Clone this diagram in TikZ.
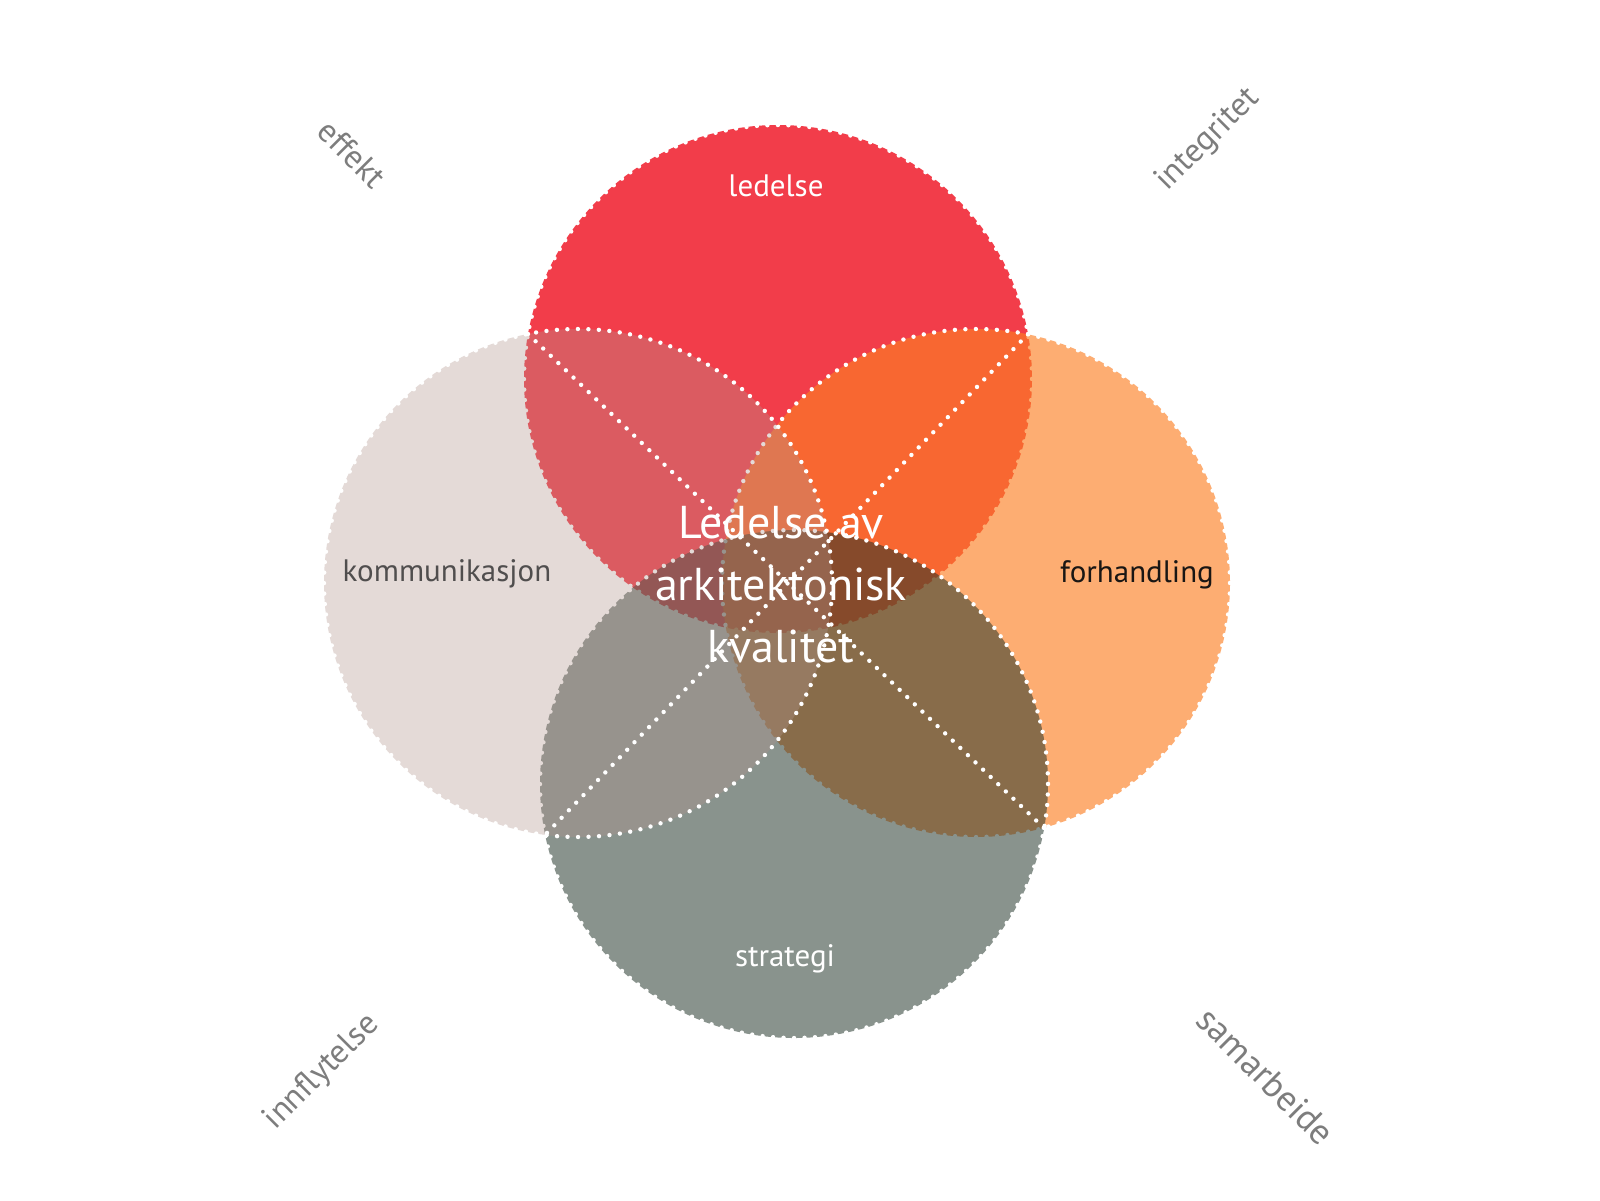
\documentclass[tikz,border=0pt]{standalone}
\usepackage{fontspec}
\setmainfont{PT Sans}
\definecolor{redc}{RGB}{242,61,74}
\definecolor{rightc}{RGB}{252,127,35}
\definecolor{bottomc}{RGB}{30,49,38}
\definecolor{leftc}{RGB}{178,149,141}
\definecolor{cornergray}{RGB}{125,125,125}
\definecolor{kommgray}{RGB}{80,78,78}
\definecolor{forhblack}{RGB}{25,22,20}
\begin{document}
\begin{tikzpicture}[x=1pt,y=-1pt,
  dots/.style={draw=white, line width=4.4pt, line cap=round, dash pattern=on 0pt off 10.5pt},
  lbl/.style={font=\fontsize{31}{31}\selectfont, inner sep=0pt},
  corner/.style={inner sep=0pt, text=cornergray, font=\fontsize{33}{33}\selectfont},
  centertext/.style={text=white, align=center, inner sep=0pt, font=\fontsize{46}{62}\selectfont}
]
\useasboundingbox (0,0) rectangle (1600,1200);
\fill[white] (0,0) rectangle (1600,1200);
% circle centres
\coordinate (cR) at (778,379);
\coordinate (cO) at (976,583);
\coordinate (cB) at (794,784);
\coordinate (cL) at (578,583);
% outer intersection points
\coordinate (pRL) at (528,334);
\coordinate (pRO) at (1028,334);
\coordinate (pLB) at (545,835);
\coordinate (pOB) at (1044,828);
% red (ledelse)
\fill[redc] (cR) circle[radius=254];
\draw[dots] (cR) circle[radius=254];
% orange (forhandling)
\fill[rightc, fill opacity=0.64] (cO) circle[radius=254];
\draw[dots] (cO) circle[radius=254];
% grey-green (strategi)
\fill[bottomc, fill opacity=0.52] (cB) circle[radius=254];
\draw[dots] (cB) circle[radius=254];
% beige (kommunikasjon)
\fill[leftc, fill opacity=0.35] (cL) circle[radius=254];
\draw[dots] (cL) circle[radius=254];
% diagonals
\draw[dots] (pRL) -- (pOB);
\draw[dots] (pRO) -- (pLB);
% labels
\node[lbl, text=white] (ledelse) at (776,186) {ledelse};
\node[lbl, text=kommgray] (komm) at (447,574) {kommunikasjon};
\node[lbl, text=forhblack] (forh) at (1137,575) {forhandling};
\node[lbl, text=white] (strat) at (785,959) {strategi};
\node[centertext] (centre) at (781,585) {Ledelse av\\arkitektonisk\\kvalitet};
\node[corner, rotate=-45] (effekt) at (352,154) {effekt};
\node[corner, rotate=45] (integritet) at (1208,140) {integritet};
\node[corner, rotate=45] (innflytelse) at (322,1072) {innflytelse};
\node[corner, rotate=-45, font=\fontsize{36}{36}\selectfont] (samarbeide) at (1266,1076) {samarbeide};
\end{tikzpicture}
\end{document}
